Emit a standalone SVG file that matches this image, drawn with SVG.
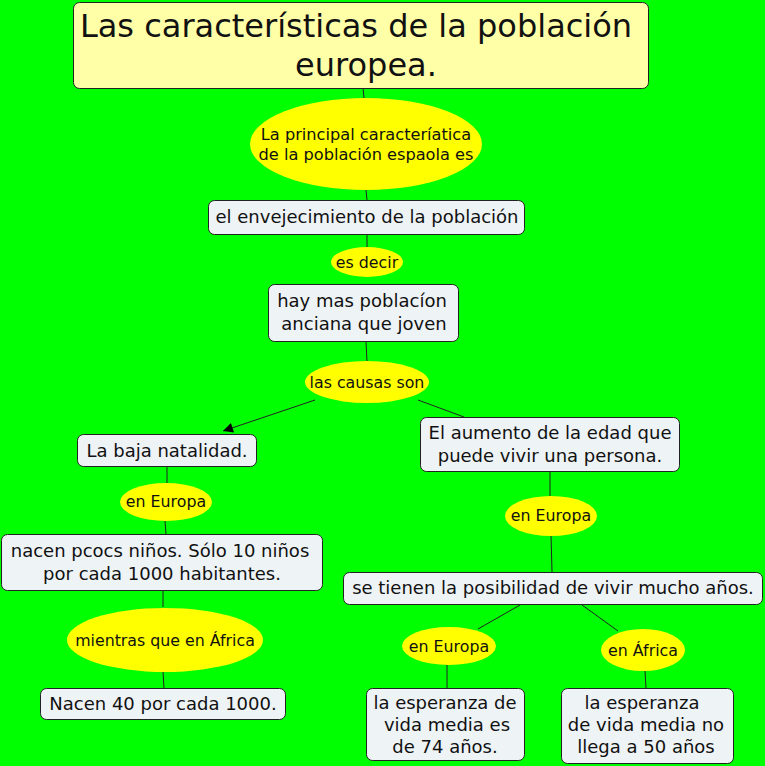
<svg xmlns="http://www.w3.org/2000/svg" width="765" height="766" viewBox="0 0 765 766">
<style>
text{font-family:"DejaVu Sans","Verdana",sans-serif;fill:#111;text-anchor:middle}
.box{fill:#eef3f6;stroke:#222;stroke-width:1}
.title{fill:#ffffa8;stroke:#222;stroke-width:1}
.ell{fill:#ffff00}
.t{font-size:18px}
.e{font-size:15.8px}
.c{stroke:#222;stroke-width:1;fill:none}
</style>
<defs>
<marker id="arr" viewBox="0 0 10 10" refX="10" refY="5" markerWidth="12" markerHeight="10" markerUnits="userSpaceOnUse" orient="auto">
<path d="M0,0 L10,5 L0,10 z" fill="#000"/>
</marker>
</defs>
<rect width="765" height="766" fill="#00ff00"/>
<g id="connectors">
<line class="c" x1="363" y1="88" x2="364" y2="98"/>
<line class="c" x1="366" y1="190" x2="367" y2="200"/>
<line class="c" x1="367" y1="234" x2="367" y2="247"/>
<line class="c" x1="366" y1="341" x2="367" y2="362"/>
<line class="c" x1="315" y1="400" x2="223" y2="431" marker-end="url(#arr)"/>
<line class="c" x1="418" y1="400" x2="464" y2="417"/>
<line class="c" x1="167" y1="467" x2="167" y2="483"/>
<line class="c" x1="165" y1="521" x2="166" y2="534"/>
<line class="c" x1="163" y1="590" x2="163" y2="607"/>
<line class="c" x1="163" y1="672" x2="164" y2="688"/>
<line class="c" x1="550" y1="472" x2="550" y2="496"/>
<line class="c" x1="551" y1="535" x2="552" y2="572"/>
<line class="c" x1="520" y1="605" x2="478" y2="629"/>
<line class="c" x1="582" y1="605" x2="618" y2="631"/>
<line class="c" x1="447" y1="665" x2="447" y2="688"/>
<line class="c" x1="645" y1="671" x2="646" y2="688"/>
</g>
<g id="title">
<rect class="title" x="73.5" y="2.5" width="575" height="86" rx="6"/>
<text x="356" y="37" font-size="32">Las características de la población</text>
<text x="366" y="76" font-size="32">europea.</text>
</g>
<g id="ell-principal">
<ellipse class="ell" cx="366" cy="144" rx="116" ry="46"/>
<text x="366" y="140" font-size="16.2">La principal caracteríatica</text>
<text x="366" y="160" font-size="16.2">de la población espaola es</text>
</g>
<g id="box-envejecimiento">
<rect class="box" x="208.5" y="200.5" width="316" height="34" rx="6"/>
<text class="t" x="367" y="223">el envejecimiento de la población</text>
</g>
<g id="ell-esdecir">
<ellipse class="ell" cx="367" cy="262" rx="36" ry="15"/>
<text class="e" x="367" y="268">es decir</text>
</g>
<g id="box-hay">
<rect class="box" x="268.5" y="284.5" width="190" height="57" rx="6"/>
<text class="t" x="362" y="307">hay mas poblacíon</text>
<text class="t" x="364" y="330">anciana que joven</text>
</g>
<g id="ell-causas">
<ellipse class="ell" cx="367" cy="382" rx="62" ry="21"/>
<text class="e" x="367" y="388">las causas son</text>
</g>
<g id="box-natalidad">
<rect class="box" x="77.5" y="434.5" width="179" height="32" rx="6"/>
<text class="t" x="167" y="457">La baja natalidad.</text>
</g>
<g id="box-aumento">
<rect class="box" x="420.5" y="417.5" width="259" height="54" rx="6"/>
<text class="t" x="550" y="439">El aumento de la edad que</text>
<text class="t" x="550" y="462">puede vivir una persona.</text>
</g>
<g id="ell-europa1">
<ellipse class="ell" cx="166" cy="502" rx="46" ry="19"/>
<text class="e" x="166" y="507">en Europa</text>
</g>
<g id="ell-europa2">
<ellipse class="ell" cx="551" cy="516" rx="46" ry="20"/>
<text class="e" x="551" y="521">en Europa</text>
</g>
<g id="box-nacen">
<rect class="box" x="1.5" y="534.5" width="321" height="56" rx="6"/>
<text class="t" x="160" y="557">nacen pcocs niños. Sólo 10 niños</text>
<text class="t" x="162" y="580">por cada 1000 habitantes.</text>
</g>
<g id="box-posibilidad">
<rect class="box" x="343.5" y="572.5" width="419" height="32" rx="6"/>
<text class="t" x="553" y="594">se tienen la posibilidad de vivir mucho años.</text>
</g>
<g id="ell-mientras">
<ellipse class="ell" cx="165" cy="640" rx="98" ry="32"/>
<text class="e" x="165" y="646">mientras que en África</text>
</g>
<g id="ell-europa3">
<ellipse class="ell" cx="449" cy="646" rx="47" ry="19"/>
<text class="e" x="449" y="652">en Europa</text>
</g>
<g id="ell-africa">
<ellipse class="ell" cx="643" cy="650" rx="42" ry="21"/>
<text class="e" x="643" y="656">en África</text>
</g>
<g id="box-nacen40">
<rect class="box" x="40.5" y="688.5" width="245" height="31" rx="6"/>
<text class="t" x="163" y="710">Nacen 40 por cada 1000.</text>
</g>
<g id="box-74">
<rect class="box" x="366.5" y="688.5" width="158" height="72" rx="6"/>
<text class="t" x="445" y="709">la esperanza de</text>
<text class="t" x="447" y="731">vida media es</text>
<text class="t" x="445" y="753">de 74 años.</text>
</g>
<g id="box-50">
<rect class="box" x="561.5" y="688.5" width="172" height="75" rx="6"/>
<text class="t" x="642" y="709">la esperanza</text>
<text class="t" x="646" y="731">de vida media no</text>
<text class="t" x="646" y="753">llega a 50 años</text>
</g>
</svg>
